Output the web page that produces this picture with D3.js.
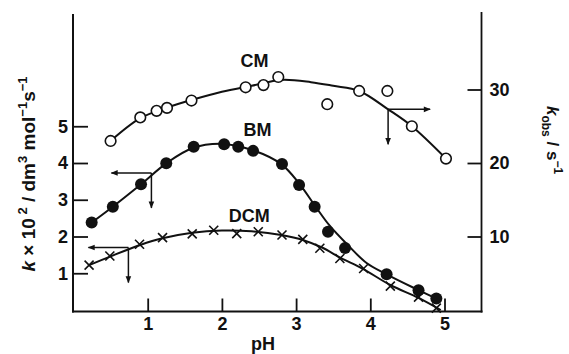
<!DOCTYPE html>
<html>
<head>
<meta charset="utf-8">
<script src="https://cdn.jsdelivr.net/npm/d3@7"></script>
<style>
  html, body { margin: 0; padding: 0; background: #fff; }
  svg text { font-family: "Liberation Sans", Arial, sans-serif; font-weight: bold; fill: #111; }
</style>
</head>
<body>
<svg id="chart" width="569" height="354"></svg>
<script>
// ---- data (pH, value) ----
// CM: open circles, right axis k_obs / s^-1
const cmPH   = [0.50, 0.90, 1.12, 1.26, 1.59, 2.32, 2.56, 2.76, 3.42, 3.85, 4.23, 4.56, 5.02];
const cmKobs = [23.0, 26.2, 27.1, 27.5, 28.5, 30.3, 30.6, 31.7, 28.0, 29.8, 29.8, 25.0, 20.6];
const cmFitPH   = [0.50, 0.90, 1.25, 1.60, 2.00, 2.40, 2.80, 3.20, 3.50, 3.85, 4.24, 4.56, 5.02];
const cmFitKobs = [23.0, 26.1, 27.5, 28.6, 29.7, 30.5, 31.3, 31.0, 30.5, 29.8, 27.3, 25.0, 20.6];

// BM: filled circles, left axis k x 10^2
const bmPH = [0.245, 0.53, 0.91, 1.25, 1.62, 2.03, 2.22, 2.42, 2.81, 3.04, 3.25, 3.43, 3.66, 4.22, 4.65, 4.89];
const bmK  = [2.38, 2.81, 3.42, 3.99, 4.44, 4.51, 4.44, 4.33, 3.97, 3.40, 2.81, 2.13, 1.69, 0.97, 0.54, 0.31];
const bmFitPH = [0.245, 0.53, 0.91, 1.25, 1.60, 2.00, 2.40, 2.80, 3.05, 3.25, 3.45, 3.70, 3.95, 4.22, 4.65, 4.89];
const bmFitK  = [2.38, 2.81, 3.42, 3.99, 4.40, 4.52, 4.36, 3.97, 3.42, 2.85, 2.30, 1.76, 1.28, 0.97, 0.54, 0.31];

// DCM: crosses, left axis k x 10^2
const dcmPH = [0.21, 0.49, 0.89, 1.20, 1.60, 1.89, 2.20, 2.49, 2.81, 3.09, 3.32, 3.59, 3.91, 4.27, 4.65, 4.89];
const dcmK  = [1.22, 1.47, 1.79, 1.97, 2.07, 2.17, 2.08, 2.13, 2.04, 1.92, 1.68, 1.40, 1.13, 0.65, 0.35, 0.05];
const dcmFitPH = [0.21, 0.50, 0.90, 1.20, 1.60, 2.00, 2.40, 2.80, 3.10, 3.35, 3.60, 3.90, 4.27, 4.65, 4.95];
const dcmFitK  = [1.22, 1.46, 1.77, 1.95, 2.10, 2.16, 2.14, 2.04, 1.90, 1.70, 1.42, 1.12, 0.68, 0.33, 0.00];

// tick labels
const xTicks = [1, 2, 3, 4, 5];
const yLeftTicks = [1, 2, 3, 4, 5];
const yRightTicks = [10, 20, 30];

// series labels (pH, left value)
const seriesLabels = [
  { text: "CM",  ph: 2.44, k: 6.60 },
  { text: "BM",  ph: 2.48, k: 4.73 },
  { text: "DCM", ph: 2.37, k: 2.39 }
];
// axis-pointer arrows: origin (pH, left value), direction
const arrows = [
  { ph: 1.05, k: 3.73, dir: "left" },
  { ph: 0.74, k: 1.70, dir: "left" },
  { ph: 4.24, k: 27.3 / 5, dir: "right" }
];

// ---- scales ----
const svg = d3.select("#chart");
const x = d3.scaleLinear().domain([0, 5.5]).range([73.5, 481.6]);
const y = d3.scaleLinear().domain([0, 8]).range([310, 16]);
const yR = d3.scaleLinear().domain([0, 40]).range([310, 16]); // k_obs = 5 * k

const ink = "#111";

// ---- axes frame ----
svg.append("line").attr("x1", 73).attr("x2", 73).attr("y1", 14).attr("y2", 312.5)
  .attr("stroke", ink).attr("stroke-width", 2);
svg.append("line").attr("x1", 481.5).attr("x2", 481.5).attr("y1", 12).attr("y2", 312.5)
  .attr("stroke", ink).attr("stroke-width", 1.8);
svg.append("line").attr("x1", 72).attr("x2", 482.5).attr("y1", 311.5).attr("y2", 311.5)
  .attr("stroke", ink).attr("stroke-width", 2);

// bottom axis
const xAxis = d3.axisBottom(x).tickValues(xTicks).tickSize(-13).tickPadding(8).tickFormat(d3.format("d"));
const gx = svg.append("g").attr("transform", "translate(0,311.5)").call(xAxis);
gx.select(".domain").remove();
gx.selectAll(".tick line").attr("stroke", ink).attr("stroke-width", 1.8);
gx.selectAll(".tick text").attr("font-size", 18).attr("dy", "0.71em").attr("y", 6);

// left axis
const yAxisL = d3.axisLeft(y).tickValues(yLeftTicks).tickSize(-15).tickPadding(5).tickFormat(d3.format("d"));
const gl = svg.append("g").attr("transform", "translate(73,0)").call(yAxisL);
gl.select(".domain").remove();
gl.selectAll(".tick line").attr("stroke", ink).attr("stroke-width", 1.8);
gl.selectAll(".tick text").attr("font-size", 18).attr("x", -5);

// right axis
const yAxisR = d3.axisRight(yR).tickValues(yRightTicks).tickSize(-14).tickPadding(8).tickFormat(d3.format("d"));
const gr = svg.append("g").attr("transform", "translate(481.5,0)").call(yAxisR);
gr.select(".domain").remove();
gr.selectAll(".tick line").attr("stroke", ink).attr("stroke-width", 1.8);
gr.selectAll(".tick text").attr("font-size", 18).attr("x", 8);

// axis titles
svg.append("text").attr("x", 263).attr("y", 350).attr("text-anchor", "middle")
  .attr("font-size", 18).text("pH");

const lt = svg.append("text").attr("transform", "translate(35,174) rotate(-90)")
  .attr("text-anchor", "middle").attr("font-size", 19);
lt.append("tspan").attr("font-style", "italic").text("k");
lt.append("tspan").text(" \u00d7 10");
lt.append("tspan").attr("font-size", 13).attr("dy", -8).text(" 2");
lt.append("tspan").attr("dy", 8).text(" / dm");
lt.append("tspan").attr("font-size", 13).attr("dy", -8).text("3");
lt.append("tspan").attr("dy", 8).text(" mol");
lt.append("tspan").attr("font-size", 13).attr("dy", -8).text("\u22121");
lt.append("tspan").attr("dy", 8).text("s");
lt.append("tspan").attr("font-size", 13).attr("dy", -8).text("\u22121");

const rt = svg.append("text").attr("transform", "translate(547,140) rotate(90)")
  .attr("text-anchor", "middle").attr("font-size", 17);
rt.append("tspan").attr("font-style", "italic").text("k");
rt.append("tspan").attr("font-size", 12).attr("dy", 5).text("obs");
rt.append("tspan").attr("dy", -5).text(" / s");
rt.append("tspan").attr("font-size", 12).attr("dy", -7).text("\u22121");

// ---- fitted curves ----
const line = d3.line().x(d => x(d[0])).y(d => y(d[1])).curve(d3.curveCatmullRom.alpha(0.5));
const cmFit = cmFitPH.map((p, i) => [p, cmFitKobs[i] / 5]);
const bmFit = bmFitPH.map((p, i) => [p, bmFitK[i]]);
const dcmFit = dcmFitPH.map((p, i) => [p, dcmFitK[i]]);
[cmFit, bmFit, dcmFit].forEach(f => {
  svg.append("path").datum(f).attr("d", line).attr("fill", "none")
    .attr("stroke", ink).attr("stroke-width", 2);
});

// ---- markers ----
// DCM crosses
const cs = 4.5;
svg.append("g").selectAll("path").data(dcmPH.map((p, i) => [p, dcmK[i]])).join("path")
  .attr("d", d => {
    const cx = x(d[0]), cy = y(d[1]);
    return `M${cx - cs},${cy - cs}L${cx + cs},${cy + cs}M${cx - cs},${cy + cs}L${cx + cs},${cy - cs}`;
  })
  .attr("stroke", ink).attr("stroke-width", 1.6).attr("fill", "none");

// BM filled circles
svg.append("g").selectAll("circle").data(bmPH.map((p, i) => [p, bmK[i]])).join("circle")
  .attr("cx", d => x(d[0])).attr("cy", d => y(d[1])).attr("r", 6).attr("fill", ink);

// CM open circles
svg.append("g").selectAll("circle").data(cmPH.map((p, i) => [p, cmKobs[i]])).join("circle")
  .attr("cx", d => x(d[0])).attr("cy", d => yR(d[1])).attr("r", 5.3)
  .attr("fill", "#fff").attr("stroke", ink).attr("stroke-width", 1.6);

// ---- series labels ----
svg.append("g").selectAll("text").data(seriesLabels).join("text")
  .attr("x", d => x(d.ph)).attr("y", d => y(d.k)).attr("text-anchor", "middle")
  .attr("font-size", 18).text(d => d.text);

// ---- arrows ----
const defs = svg.append("defs");
defs.append("marker").attr("id", "ah").attr("viewBox", "0 0 10 10")
  .attr("refX", 9).attr("refY", 5).attr("markerWidth", 9).attr("markerHeight", 7)
  .attr("markerUnits", "userSpaceOnUse").attr("orient", "auto")
  .append("path").attr("d", "M0,1L10,5L0,9Z").attr("fill", ink);

arrows.forEach(a => {
  const ox = x(a.ph), oy = y(a.k);
  const hx = a.dir === "left" ? ox - 40 : ox + 42;
  svg.append("line").attr("x1", ox).attr("y1", oy).attr("x2", hx).attr("y2", oy)
    .attr("stroke", ink).attr("stroke-width", 1.5).attr("marker-end", "url(#ah)");
  svg.append("line").attr("x1", ox).attr("y1", oy).attr("x2", ox).attr("y2", oy + 35)
    .attr("stroke", ink).attr("stroke-width", 1.5).attr("marker-end", "url(#ah)");
});
</script>
</body>
</html>
